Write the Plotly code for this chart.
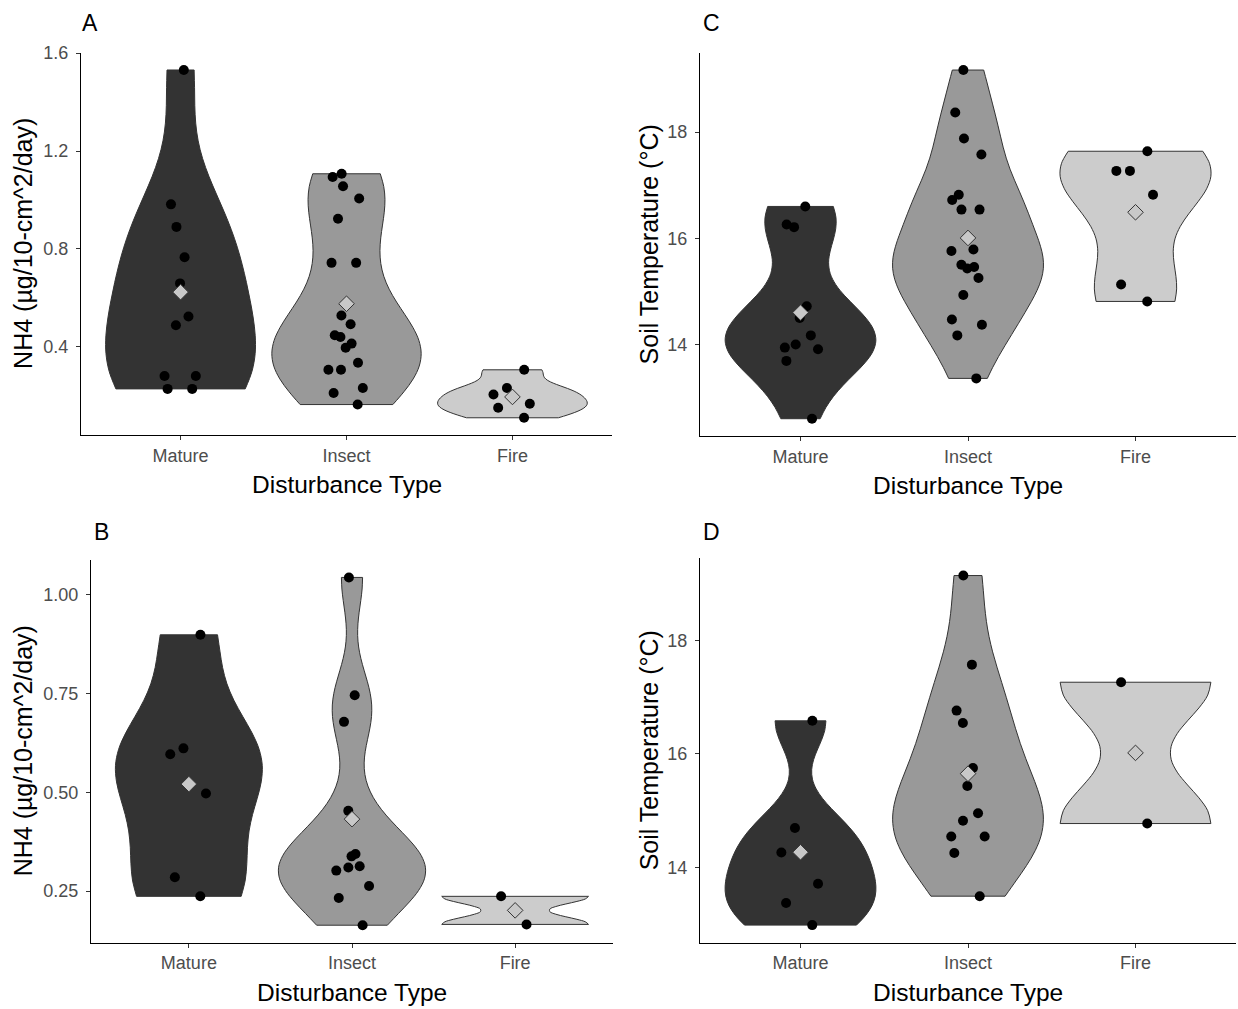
import numpy as np
import plotly.graph_objects as go

W, H = 1238, 1009
FONT = "Liberation Sans, Arial, sans-serif"

categories = ["Mature", "Insect", "Fire"]

# Panel A: NH4
A_mature = [1.531, 0.982, 0.890, 0.766, 0.659, 0.524, 0.488, 0.281, 0.281, 0.228, 0.228]
A_insect = [1.107, 1.094, 1.056, 1.006, 0.923, 0.743, 0.743, 0.528, 0.492, 0.447, 0.440,
            0.413, 0.396, 0.335, 0.306, 0.306, 0.232, 0.211, 0.164]
A_fire = [0.306, 0.232, 0.205, 0.167, 0.151, 0.110]

# Panel B: NH4
B_mature = [0.898, 0.611, 0.596, 0.497, 0.285, 0.237]
B_insect = [1.043, 0.745, 0.678, 0.453, 0.344, 0.338, 0.313, 0.310, 0.302, 0.263, 0.233, 0.164]
B_fire = [0.237, 0.166]

# Panel C: soil temperature
C_mature = [16.60, 16.26, 16.21, 14.72, 14.50, 14.17, 14.00, 13.94, 13.91, 13.69, 12.60]
C_insect = [19.17, 18.37, 17.88, 17.58, 16.82, 16.72, 16.54, 16.54, 15.79, 15.76, 15.50,
            15.46, 15.43, 15.25, 14.93, 14.47, 14.37, 14.17, 13.36]
C_fire = [17.64, 17.27, 17.27, 16.82, 15.13, 14.81]

# Panel D: soil temperature
D_mature = [16.58, 14.69, 14.26, 13.71, 13.37, 12.98]
D_insect = [19.14, 17.57, 16.76, 16.54, 15.75, 15.43, 14.95, 14.82, 14.54, 14.54, 14.25, 13.49]
D_fire = [17.26, 14.77]

A_ticks = [0.4, 0.8, 1.2, 1.6]
B_ticks = [0.25, 0.50, 0.75, 1.00]
T_ticks = [14, 16, 18]

fills = {"Mature": "#333333", "Insect": "#999999", "Fire": "#cccccc"}

nh4_title = "NH4 (µg/10-cm^2/day)"
temp_title = "Soil Temperature (°C)"
x_title = "Disturbance Type"

# panel layout in pixels: (left, right, top, bottom)
panels = [
    dict(key="A", data=[A_mature, A_insect, A_fire], ticks=A_ticks, fmt=".1f",
         box=(81, 612, 44, 430), ytitle=nh4_title, ytx=23, tag=(80, 14)),
    dict(key="C", data=[C_mature, C_insect, C_fire], ticks=T_ticks, fmt="d",
         box=(700, 1236, 44, 431), ytitle=temp_title, ytx=649, tag=(701, 14)),
    dict(key="B", data=[B_mature, B_insect, B_fire], ticks=B_ticks, fmt=".2f",
         box=(91, 613, 556, 942), ytitle=nh4_title, ytx=23, tag=(92, 528)),
    dict(key="D", data=[D_mature, D_insect, D_fire], ticks=T_ticks, fmt="d",
         box=(700, 1236, 554, 942), ytitle=temp_title, ytx=649, tag=(701, 528)),
]


def nrd0(x):
    x = np.asarray(x, dtype=float)
    hi = np.std(x, ddof=1)
    q75, q25 = np.percentile(x, [75, 25])
    lo = min(hi, (q75 - q25) / 1.34)
    if lo == 0:
        lo = hi if hi > 0 else 1.0
    return 0.9 * lo * len(x) ** -0.2


fig = go.Figure()
annotations = []
layout_axes = {}

for i, p in enumerate(panels):
    n = i + 1
    xa = "x" if n == 1 else f"x{n}"
    ya = "y" if n == 1 else f"y{n}"
    l, r, t, b = p["box"]
    allv = np.concatenate([np.asarray(v, float) for v in p["data"]])
    lo, hi = allv.min(), allv.max()
    pad = 0.05 * (hi - lo)

    for cat, vals in zip(categories, p["data"]):
        fig.add_trace(go.Violin(
            x=[cat] * len(vals), y=vals, xaxis=xa, yaxis=ya,
            fillcolor=fills[cat], line=dict(color="#333333", width=1),
            opacity=1, width=0.9, scalemode="width", spanmode="hard",
            bandwidth=nrd0(vals), points="all", jitter=0.3, pointpos=0,
            marker=dict(color="black", size=10, line=dict(width=0)),
            box_visible=False, meanline_visible=False, hoverinfo="skip",
            showlegend=False,
        ))
    means = [float(np.mean(v)) for v in p["data"]]
    fig.add_trace(go.Scatter(
        x=categories, y=means, xaxis=xa, yaxis=ya, mode="markers",
        marker=dict(symbol="diamond", size=12, color="#c8c8c8",
                    line=dict(color="#333333", width=1)),
        hoverinfo="skip", showlegend=False,
    ))

    xkey = "xaxis" if n == 1 else f"xaxis{n}"
    ykey = "yaxis" if n == 1 else f"yaxis{n}"
    layout_axes[xkey] = dict(
        domain=[l / W, r / W], anchor=ya, type="category",
        categoryorder="array", categoryarray=categories, range=[-0.6, 2.6],
        showline=True, linecolor="black", linewidth=1, mirror=False,
        ticks="outside", ticklen=4, tickcolor="#333333", tickwidth=1,
        tickfont=dict(family=FONT, size=18, color="#4d4d4d"),
        ticklabelstandoff=0,
        showgrid=False, zeroline=False, fixedrange=True,
    )
    layout_axes[ykey] = dict(
        domain=[1 - b / H, 1 - t / H], anchor=xa, range=[lo - pad, hi + pad],
        tickvals=p["ticks"], tickformat=p["fmt"],
        showline=True, linecolor="black", linewidth=1,
        ticks="outside", ticklen=4, tickcolor="#333333", tickwidth=1,
        tickfont=dict(family=FONT, size=18, color="#4d4d4d"),
        ticklabelstandoff=4,
        showgrid=False, zeroline=False, fixedrange=True,
    )

    annotations.append(dict(
        text=x_title, xref="paper", yref="paper", x=(l + r) / 2 / W,
        y=1 - (b + 50) / H, xanchor="center", yanchor="middle", showarrow=False,
        font=dict(family=FONT, size=24.5, color="black"),
    ))
    annotations.append(dict(
        text=p["ytitle"], xref="paper", yref="paper", x=p["ytx"] / W,
        y=1 - (t + b) / 2 / H, xanchor="center", yanchor="middle", showarrow=False,
        textangle=-90, font=dict(family=FONT, size=25, color="black"),
    ))
    annotations.append(dict(
        text=p["key"], xref="paper", yref="paper", x=p["tag"][0] / W,
        y=1 - p["tag"][1] / H, xanchor="left", yanchor="middle", showarrow=False,
        font=dict(family=FONT, size=23, color="black"),
    ))

fig.update_layout(
    width=W, height=H, margin=dict(l=0, r=0, t=0, b=0),
    paper_bgcolor="white", plot_bgcolor="white",
    violinmode="overlay", showlegend=False,
    font=dict(family=FONT),
    annotations=annotations,
    **layout_axes,
)

fig.write_html("out.html")
